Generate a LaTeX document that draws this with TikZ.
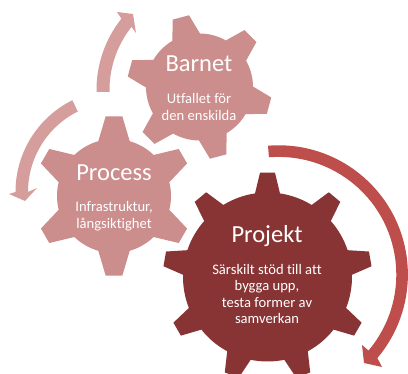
\documentclass[tikz,border=0pt]{standalone}
\usepackage{fontspec}
\setmainfont{Carlito}[Ligatures=NoCommon]
\definecolor{gearlight}{RGB}{204,141,141}
\definecolor{geardark}{RGB}{136,52,52}
\definecolor{arrowlight}{RGB}{214,157,157}
\definecolor{arrowdark}{RGB}{189,78,76}
\tikzset{
  title/.style={text=white,font=\fontsize{24.5}{28}\selectfont,inner sep=0pt,anchor=center},
  body/.style={text=white,font=\fontsize{14.6}{16.6}\selectfont,inner sep=0pt,align=center,anchor=center}
}
% #1 cx, #2 cy, #3 R tip, #4 r body, #5 tip half angle, #6 base half angle, #7 rotation, #8 teeth, #9 colour
\newcommand{\gearshape}[9]{%
  \pgfmathsetmacro{\gstep}{360/#8}
  \pgfmathtruncatemacro{\glast}{#8-1}
  \begin{scope}[shift={(#1,#2)}]
    \fill[#9] ({#7-#6}:#4)
      \foreach \k [evaluate=\k as \a using #7+\k*\gstep] in {0,...,\glast} {
        -- ({\a-#6}:#4) -- ({\a-#5}:#3) -- ({\a+#5}:#3) -- ({\a+#6}:#4)
        arc[start angle={\a+#6},end angle={\a+\gstep-#6},radius=#4pt]
      } -- cycle;
  \end{scope}}
\begin{document}
\begin{tikzpicture}[x=1pt,y=1pt]
\useasboundingbox (0,0) rectangle (408,374);
\fill[white] (0,0) rectangle (408,374);
% top small arrow
\fill[arrowlight] ([shift={(211,284)}]181:114.5) arc[start angle=181,end angle=141.5,radius=114.5pt]
  -- (117,362) -- (133,360) -- (136,341) -- ([shift={(211,284)}]141.5:101.5)
  arc[start angle=141.5,end angle=181,radius=101.5pt] -- cycle;
% left small arrow
\fill[arrowlight] ([shift={(118,182)}]116.5:102.5) arc[start angle=116.5,end angle=180,radius=102.5pt]
  -- (9,180) -- (25,173) -- (37,186) -- ([shift={(118,182)}]180:90)
  arc[start angle=180,end angle=116.5,radius=90pt] -- cycle;
% big arrow
\fill[arrowdark] ([shift={(278.6,99.4)}]94.7:129.3) arc[start angle=94.7,end angle=-40.2,radius=129.3pt]
  -- (382,7) -- (364,11) -- (362,29) -- ([shift={(278.6,99.4)}]-40.2:117.7)
  arc[start angle=-40.2,end angle=94.7,radius=117.7pt] -- cycle;
% gears
\gearshape{199.5}{287}{72.5}{53.5}{6.7}{15.5}{105}{6}{gearlight}
\gearshape{114}{178}{80}{57}{6}{16}{90}{6}{gearlight}
\gearshape{267.5}{97}{104.6}{84.5}{4.1}{8.5}{90}{9}{geardark}
% text
\node[title] (barnet) at (199,310) {Barnet};
\node[body] (barnettext) at (199,267) {Utfallet för\\den enskilda};
\node[title] (process) at (114,201) {Process};
\node[body] (processtext) at (114,158) {Infrastruktur,\\långsiktighet};
\node[title] (projekt) at (267,138) {Projekt};
\node[body] (projekttext) at (267,80) {Särskilt stöd till att\\bygga upp,\\testa former av\\samverkan};
\end{tikzpicture}
\end{document}
